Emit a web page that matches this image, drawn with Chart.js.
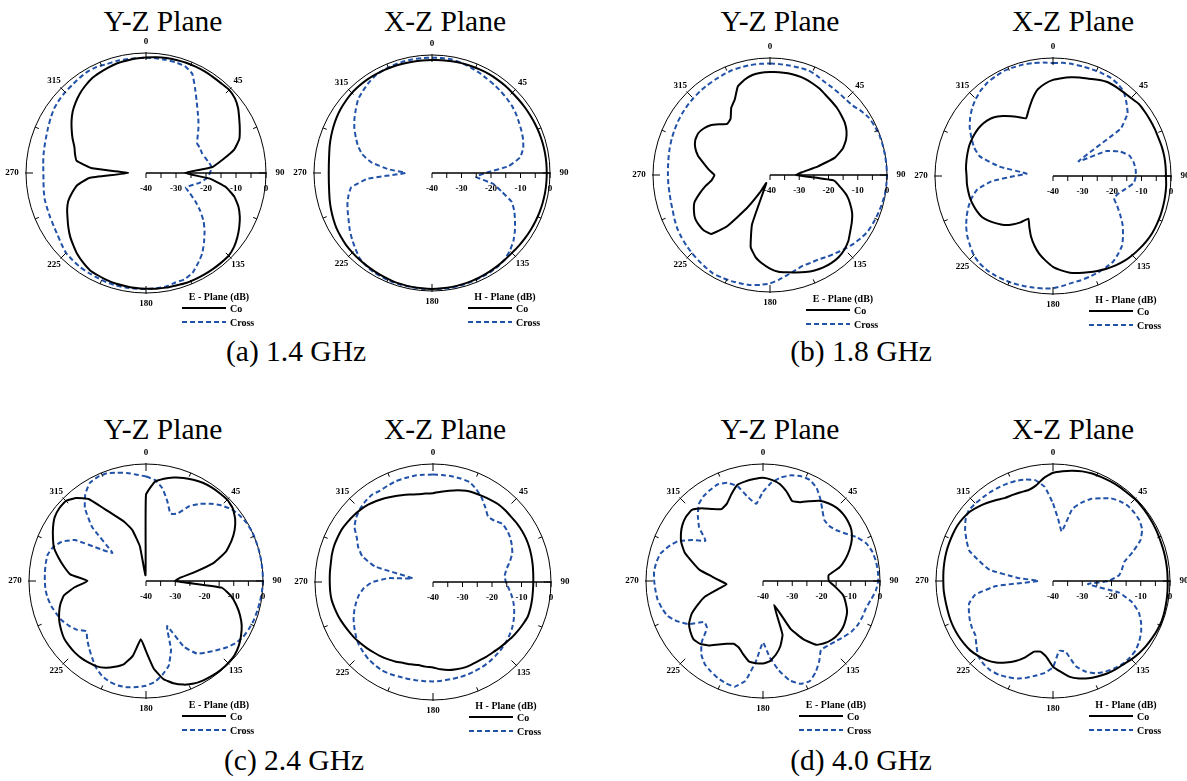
<!DOCTYPE html>
<html lang="en">
<head>
<meta charset="UTF-8">
<title>Radiation patterns</title>
<style>
  body { margin: 0; width: 1187px; height: 781px; overflow: hidden; background: #fff; position: relative;
         font-family: "Liberation Serif", "Times New Roman", serif; color: #000; }
  canvas { position: absolute; }
  .title, .cap { position: absolute; font-size: 29.5px; white-space: nowrap; transform: translate(-50%, -50%); }
  .lg { position: absolute; font-size: 10px; font-weight: bold; white-space: nowrap; }
  .lgline { position: absolute; height: 2px; }
</style>
</head>
<body>
<script src="https://cdn.jsdelivr.net/npm/chart.js"></script>
<script>
// angle categories (degrees, clockwise from top)
const ANGLES = [0,5,10,15,20,25,30,35,40,45,50,55,60,65,70,75,80,85,90,95,100,105,110,115,
  120,125,130,135,140,145,150,155,160,165,170,175,180,185,190,195,200,205,210,215,220,225,230,235,
  240,245,250,255,260,265,270,275,280,285,290,295,300,305,310,315,320,325,330,335,340,345,350,355];
const ANGLE_LABELS = [0, 45, 90, 135, 180, 225, 270, 315];
const RIM_TICKS = [0, 22.5, 45, 67.5, 90, 112.5, 135, 157.5, 180, 202.5, 225, 247.5, 270, 292.5, 315, 337.5];
const DB_TICKS = [-40, -35, -30, -25, -20, -15, -10, -5, 0];
const DB_LABELS = [-40, -30, -20, -10, 0];

// (a) 1.4 GHz
const YZ14_CO = [-1.5,-1.3,-1.1,-1,-0.9,-0.9,-0.9,-1,-1,-0.8,-1.3,-2.5,
  -4.1,-5.5,-6.9,-9.5,-14,-18,-27,-18.6,-13,-9.5,-7.2,-5.5,
  -4.1,-2.8,-1.7,-1,-1,-1,-1,-1,-1,-1.2,-1.2,-1.3,
  -1.4,-1.5,-1.7,-1.8,-2,-2.3,-2.6,-3.5,-4.5,-5.8,-7,-8.4,
  -9.8,-11,-12.4,-14.5,-16.7,-21,-34,-22,-16.5,-15.5,-14.6,-13,
  -11.4,-9.7,-8.1,-6.8,-5.6,-4.6,-3.7,-3.2,-2.7,-2.2,-2,-1.7];
const YZ14_CROSS = [-1.6,-1.6,-1.7,-1.8,-2.1,-3.5,-7.3,-10.6,-13.2,-15.3,-17.2,-19,
  -20.3,-20.2,-20.2,-19.7,-18.8,-18,-18.7,-19.7,-21.7,-24.2,-25.9,-23.8,
  -20.9,-17.9,-14.9,-12.4,-9.9,-7.3,-5.3,-3.3,-2.3,-2.2,-1.6,-1.4,
  -1.3,-1.3,-1.2,-1.2,-1.3,-1.5,-1.6,-1.7,-2,-2.3,-3.2,-4,
  -4.5,-4.8,-5,-5.1,-5.4,-5.7,-5.8,-5.6,-5.3,-5,-4.6,-4,
  -3.3,-2.6,-2.2,-1.9,-1.7,-1.3,-1,-1,-1.4,-1.4,-1.5,-1.6];
const XZ14_CO = [-1.7,-1.6,-1.5,-1.45,-1.4,-1.35,-1.3,-1.35,-1.4,-1.5,-1.5,-1.45,
  -1.4,-1.3,-1.2,-1.15,-1.1,-1.1,-1.1,-1.1,-1.1,-1.15,-1.2,-1.3,
  -1.4,-1.5,-1.6,-1.7,-1.6,-1.45,-1.3,-1.15,-1,-0.9,-0.8,-0.75,
  -0.7,-0.75,-0.8,-0.9,-1,-1.2,-1.4,-1.55,-1.7,-1.85,-2,-2.3,
  -2.6,-3.1,-3.6,-4.1,-4.6,-4.9,-5,-4.9,-4.6,-4.1,-3.6,-3.1,
  -2.6,-2.2,-1.9,-1.6,-1.5,-1.45,-1.5,-1.55,-1.6,-1.65,-1.7,-1.7];
const XZ14_CROSS = [-0.9,-0.9,-0.9,-1.3,-1.9,-2.4,-3,-3.4,-3.8,-4.2,-4.6,-5.2,
  -5.9,-6.5,-7.1,-8,-9.7,-14,-22,-25,-19,-15.5,-11.2,-9.2,
  -7.5,-5.7,-4,-2.7,-1.7,-1.2,-1,-0.9,-0.8,-0.7,-0.6,-0.6,
  -0.6,-0.65,-0.7,-0.7,-0.7,-0.85,-1,-1.4,-2,-3.4,-4.7,-6,
  -7.4,-8.5,-9.5,-10.7,-12.2,-18.2,-31,-25,-19.1,-15.5,-13.3,-11.5,
  -9.6,-7.9,-6.3,-4.6,-3.6,-2.6,-1.8,-1.4,-1.2,-1,-0.9,-0.9];

// (b) 1.8 GHz
const YZ18_CO = [-4.8,-4.7,-4.7,-4.8,-5,-5.5,-6,-6.7,-7.2,-7.6,-8.2,-8.8,
  -9.8,-11.3,-13.5,-17,-23.5,-29,-31,-18,-15.5,-12.8,-10.8,-9,
  -7.7,-6.5,-5,-4,-3.4,-3.3,-3.5,-4,-4.7,-5.5,-6.2,-6.8,
  -8,-9.6,-11.5,-14.5,-22,-37,-33,-26,-17,-11.5,-10.5,-10.3,
  -10.4,-11.3,-12.5,-15,-17.5,-20,-21,-19,-17,-14.5,-12.8,-11.8,
  -11.6,-12.3,-13.5,-15.5,-17.2,-16.5,-13.5,-11.5,-7.8,-6.3,-5.3,-4.9];
const YZ18_CROSS = [-1.9,-1.95,-2,-1.95,-1.9,-2.4,-3.1,-3.3,-3.4,-3.4,-3.1,-1.9,
  -0.9,-0.5,-0.2,-0.15,-0.1,-0.05,0,-0.1,-0.2,-0.5,-0.8,-1.1,
  -1.4,-2.2,-3.1,-4.1,-5.1,-5.9,-6.7,-6.9,-7,-6.3,-5.3,-4.1,
  -2.9,-2.3,-1.8,-1.6,-1.4,-1.25,-1.1,-1.5,-1.9,-2.25,-2.6,-3,
  -3.4,-4,-4.6,-4.9,-5.1,-5.1,-5.1,-5,-4.8,-4.5,-4.2,-3.9,
  -3.6,-3.35,-3.1,-2.9,-2.7,-2.55,-2.4,-2.15,-1.9,-1.85,-1.8,-1.85];
const XZ18_CO = [-7.4,-6.7,-6,-5.4,-4.9,-4,-3.2,-3,-2.9,-2.6,-2,-2,
  -2,-2,-2,-1.8,-1.7,-1.7,-1.7,-1.5,-1.4,-1.3,-1.2,-1.2,
  -1.2,-1.4,-1.7,-2,-2.4,-3,-3.7,-4.5,-5.3,-6,-6.7,-7.9,
  -9.2,-11.2,-13.2,-15.6,-18.2,-21,-23.3,-20.8,-18.5,-16.5,-15,-13.5,
  -12.2,-11.6,-11.2,-10.9,-10.8,-10.7,-10.7,-10.4,-10.2,-10,-9.8,-9.8,
  -9.9,-10.2,-10.8,-11.8,-13.5,-15.3,-17,-18.4,-16,-13,-10.2,-8.6];
const XZ18_CROSS = [-1.7,-1.5,-1.5,-1.5,-1.5,-1.4,-1.4,-1.8,-2.7,-4.8,-7,-12,
  -30,-20,-15.8,-13.2,-12.3,-11.9,-11.9,-12.5,-15,-17,-18,-16,
  -13.7,-11.2,-9,-6.8,-5.6,-4.5,-4.2,-3.9,-3.7,-3.4,-3.2,-2.6,
  -1.9,-1.7,-1.6,-1.4,-1.2,-1.1,-1,-1,-1.3,-2,-3.3,-4.5,
  -6,-7.7,-9.5,-11.5,-14,-19,-27,-31,-21.5,-14.3,-11.5,-9.5,
  -7.4,-5.7,-4.2,-3,-2,-1.3,-1,-0.7,-0.8,-0.9,-1.1,-1.4];

// (c) 2.4 GHz
const YZ24_CO = [-10.5,-6,-4.5,-3.4,-2.5,-1.8,-1.2,-0.9,-0.8,-0.7,-1.3,-2.8,
  -5,-7.8,-11,-16,-23.5,-28.5,-30,-14,-10.5,-8,-5.8,-3.9,
  -2.5,-1.3,-0.5,-0.3,-0.3,-0.5,-0.8,-1.3,-2.3,-3.8,-6,-10,
  -16,-20,-14,-10.5,-8.8,-7.3,-6.3,-5.9,-5.6,-5.5,-5.6,-5.8,
  -6.5,-7.3,-8.4,-9.7,-11.5,-15.5,-20,-14,-11.5,-9,-6.5,-4.9,
  -3.3,-1.9,-1.3,-1.3,-3,-5.8,-11.5,-15.5,-18.5,-22,-28,-38];
const YZ24_CROSS = [-4.3,-5.3,-7.8,-11.8,-15.5,-14.5,-10.5,-7.8,-5.5,-3.5,-1.8,-0.9,
  -0.3,0,0,0,0,0,0,-0.2,-0.4,-0.6,-0.8,-1.2,
  -1.7,-2.8,-4.5,-6.4,-8.1,-9.7,-14,-23,-15,-10,-7.5,-5.4,
  -4.2,-3.6,-3.1,-3,-3.4,-4.3,-5.8,-7.9,-9.8,-11.6,-13.3,-11,
  -9.5,-8.2,-7.4,-6.5,-5.9,-5.5,-5.4,-5.3,-5.2,-5.2,-6.2,-8.2,
  -12,-21,-25,-14,-7.5,-3.8,-1.4,-0.8,-0.8,-1.7,-2.5,-3.5];
const XZ24_CO = [-9.9,-9.3,-8.6,-7.8,-7.1,-6.7,-6.4,-6,-5.6,-5.5,-5.5,-5.3,
  -5.2,-5.2,-5.3,-5.5,-5.7,-5.9,-6,-6,-5.9,-5.8,-5.8,-6.3,
  -6.8,-7.3,-7.9,-8.3,-8.7,-8.9,-9.1,-9.1,-9.1,-9.4,-9.7,-10.3,
  -11,-11.2,-11.4,-11.1,-10.8,-10.2,-9.7,-9.2,-8.8,-8.3,-7.8,-7.3,
  -6.9,-6.4,-5.9,-5.5,-5.1,-5,-5,-4.9,-4.8,-4.5,-4.3,-4.3,
  -4.3,-4.6,-4.9,-5.3,-5.8,-6.5,-7.2,-8,-8.7,-9.3,-9.8,-9.9];
const XZ24_CROSS = [-3.6,-3.6,-3.6,-3.7,-3.9,-5.3,-7,-9.1,-11,-10.6,-9.3,-9.4,
  -9.8,-10.5,-11.4,-13,-14.7,-15.6,-15.3,-14.2,-12.9,-11.7,-10.7,-9.8,
  -9,-8.4,-7.9,-7.5,-7.2,-6.9,-6.7,-6.6,-6.5,-6.5,-6.5,-6.4,
  -6.3,-6.25,-6.2,-6.05,-5.9,-5.6,-5.4,-5.6,-5.9,-6.5,-7.1,-8.1,
  -9.2,-10.3,-11.6,-13,-14.5,-16.5,-19.5,-25,-33,-19.6,-14.5,-12,
  -10.2,-7.5,-6,-5,-4.3,-3.9,-4.2,-3.9,-3.6,-3.5,-3.4,-3.5];

// (d) 4.0 GHz
const YZ40_CO = [-4.7,-5.3,-6.4,-8.5,-10.9,-10.3,-8.5,-6.5,-5.3,-4.5,-4.3,-4.5,
  -5.1,-6.5,-8.5,-10.8,-13.5,-17.5,-17.5,-15,-12.2,-10.7,-9.4,-8.8,
  -8.4,-8.5,-9,-10,-11.5,-15.5,-21,-31,-20.5,-17,-14.5,-12.5,
  -11.8,-11.8,-12.1,-14,-15.8,-16.3,-15.2,-13.5,-11.2,-9.6,-9,-9.7,
  -10.8,-13,-16.3,-19.5,-24.5,-27.5,-25.5,-22.5,-18,-15,-11.5,-9.2,
  -7.6,-6.4,-5.7,-5.6,-7.5,-10,-11.6,-10.8,-8.4,-6,-5.4,-5];
const YZ40_CROSS = [-9.5,-6.2,-4,-2.6,-1.9,-1.9,-3.3,-5.8,-8.4,-10.4,-10.6,-9.6,
  -7.5,-4.6,-2.4,-1.3,-0.8,-0.6,-0.6,-1.3,-2.6,-3.6,-3.9,-4.3,
  -5.2,-6.5,-7.8,-8.7,-9.2,-6.5,-4,-2.2,-2.6,-4.8,-9,-13.8,
  -19,-12.5,-5.3,-2.6,-2.8,-3.4,-4.3,-5.3,-7.2,-10.3,-15,-15.5,
  -10.5,-7.5,-5.2,-4.2,-3.4,-3.1,-2.8,-2.6,-3,-3.7,-5.6,-7.8,
  -12,-16,-11.5,-8.5,-5.8,-4.6,-4,-3.5,-4.3,-6.5,-11,-13.5];
const XZ40_CO = [-3,-2.3,-1.7,-1.2,-0.9,-0.8,-0.7,-0.6,-0.6,-0.4,-0.4,-0.5,
  -0.6,-0.7,-0.8,-0.8,-0.8,-0.8,-0.8,-0.7,-0.6,-0.5,-0.4,-0.6,
  -0.9,-1.2,-1.6,-2.1,-2.7,-3,-3.4,-4,-4.6,-5.5,-6.7,-8.8,
  -10.7,-14,-15.5,-15,-12.2,-9.8,-7.8,-6,-4.7,-3.8,-3.1,-2.8,
  -2.6,-2.5,-2.5,-2.6,-2.6,-2.5,-2.5,-2.4,-2.3,-2.2,-2.2,-2.2,
  -2.2,-2.5,-3,-4,-5.1,-6.2,-7.2,-7.5,-7.7,-7.8,-6.8,-4.6];
const XZ40_CROSS = [-13.5,-19,-22.8,-14.5,-11.5,-9,-7.3,-5.5,-4.4,-3.7,-3.7,-3.9,
  -4.8,-7,-11,-14.8,-16,-17.3,-21,-28,-17,-12,-8.8,-6.8,
  -5.2,-4,-3.1,-2.9,-3,-3.5,-4.2,-5.2,-7,-9.8,-15.5,-16,
  -10.5,-8.5,-7.2,-5.8,-4.5,-3.7,-3,-2.7,-3,-3.8,-5.8,-7.6,
  -8,-8.6,-9.4,-10.3,-13,-20.5,-35,-28,-18,-14,-9.5,-7.4,
  -5.3,-3.5,-2.4,-2.5,-2.7,-2.8,-3,-3.2,-3.5,-4.1,-5,-7.7];

const CO_COLOR = '#000000';
const CROSS_COLOR = '#2152a8';

const PLOTS = [
  { cx: 146,  cy: 173, r: 120, legend: 'E - Plane (dB)', co: YZ14_CO, cross: YZ14_CROSS },
  { cx: 432,  cy: 173, r: 118, legend: 'H - Plane (dB)', co: XZ14_CO, cross: XZ14_CROSS },
  { cx: 770,  cy: 175, r: 117, legend: 'E - Plane (dB)', co: YZ18_CO, cross: YZ18_CROSS },
  { cx: 1053, cy: 176, r: 118, legend: 'H - Plane (dB)', co: XZ18_CO, cross: XZ18_CROSS },
  { cx: 146,  cy: 581, r: 117, legend: 'E - Plane (dB)', co: YZ24_CO, cross: YZ24_CROSS },
  { cx: 433,  cy: 582, r: 118, legend: 'H - Plane (dB)', co: XZ24_CO, cross: XZ24_CROSS },
  { cx: 763,  cy: 581, r: 117, legend: 'E - Plane (dB)', co: YZ40_CO, cross: YZ40_CROSS },
  { cx: 1053, cy: 581, r: 117, legend: 'H - Plane (dB)', co: XZ40_CO, cross: XZ40_CROSS }
];

const TEXTS = [
  { cls: 'title', text: 'Y-Z Plane', x: 163, y: 21 },
  { cls: 'title', text: 'X-Z Plane', x: 445, y: 21 },
  { cls: 'title', text: 'Y-Z Plane', x: 780, y: 21 },
  { cls: 'title', text: 'X-Z Plane', x: 1073, y: 21 },
  { cls: 'title', text: 'Y-Z Plane', x: 163, y: 429 },
  { cls: 'title', text: 'X-Z Plane', x: 445, y: 429 },
  { cls: 'title', text: 'Y-Z Plane', x: 780, y: 429 },
  { cls: 'title', text: 'X-Z Plane', x: 1073, y: 429 },
  { cls: 'cap', text: '(a) 1.4 GHz', x: 296, y: 351 },
  { cls: 'cap', text: '(b) 1.8 GHz', x: 861, y: 351 },
  { cls: 'cap', text: '(c) 2.4 GHz', x: 294, y: 760 },
  { cls: 'cap', text: '(d) 4.0 GHz', x: 861, y: 760 }
];

// rim ticks, dB axis along 90 deg and angle labels
const polarAxes = {
  id: 'polarAxes',
  afterDatasetsDraw(chart) {
    const s = chart.scales.r;
    const ctx = chart.ctx;
    const R = s.drawingArea;
    ctx.save();
    ctx.strokeStyle = '#000';
    ctx.fillStyle = '#000';
    ctx.lineWidth = 1;
    ctx.beginPath();
    RIM_TICKS.forEach(deg => {
      const major = deg % 45 === 0;
      const a = (deg - 90) * Math.PI / 180;
      const r0 = R - (major ? 7 : 4), r1 = R + (major ? 1 : 0);
      ctx.moveTo(s.xCenter + r0 * Math.cos(a), s.yCenter + r0 * Math.sin(a));
      ctx.lineTo(s.xCenter + r1 * Math.cos(a), s.yCenter + r1 * Math.sin(a));
    });
    ctx.stroke();

    const i90 = ANGLES.indexOf(90);
    const a0 = s.getPointPositionForValue(i90, -40);
    const a1 = s.getPointPositionForValue(i90, 0);
    ctx.lineWidth = 1.5;
    ctx.beginPath();
    ctx.moveTo(a0.x, a0.y);
    ctx.lineTo(a1.x, a1.y);
    ctx.stroke();
    ctx.lineWidth = 1;
    ctx.beginPath();
    DB_TICKS.forEach(v => {
      const p = s.getPointPositionForValue(i90, v);
      ctx.moveTo(p.x, p.y);
      ctx.lineTo(p.x, p.y + 5);
    });
    ctx.stroke();

    ctx.font = 'bold 9px "Liberation Serif", serif';
    ctx.textAlign = 'center';
    ctx.textBaseline = 'middle';
    DB_LABELS.forEach(v => {
      const p = s.getPointPositionForValue(i90, v);
      ctx.fillText(String(v), p.x, p.y + 16);
    });
    ANGLE_LABELS.forEach(deg => {
      const off = deg % 180 === 0 ? 11 : (deg % 90 === 0 ? 14 : 10);
      const p = s.getPointPosition(ANGLES.indexOf(deg), R + off);
      ctx.fillText(String(deg), p.x, p.y);
    });
    ctx.restore();
  }
};

function addEl(cls, text, left, top, extra) {
  const d = document.createElement('div');
  d.className = cls;
  if (text) d.textContent = text;
  d.style.left = left + 'px';
  d.style.top = top + 'px';
  if (extra) Object.assign(d.style, extra);
  document.body.appendChild(d);
  return d;
}

TEXTS.forEach(t => addEl(t.cls, t.text, t.x, t.y));

PLOTS.forEach(p => {
  const cv = document.createElement('canvas');
  cv.width = 300;
  cv.height = 300;
  cv.style.left = (p.cx - 150) + 'px';
  cv.style.top = (p.cy - 150) + 'px';
  document.body.appendChild(cv);

  new Chart(cv, {
    type: 'radar',
    data: {
      labels: ANGLES,
      datasets: [
        { label: 'Co', data: p.co, borderColor: CO_COLOR, borderWidth: 2, fill: false,
          pointRadius: 0, tension: 0.12 },
        { label: 'Cross', data: p.cross, borderColor: CROSS_COLOR, borderWidth: 2, fill: false,
          borderDash: [5, 3], pointRadius: 0, tension: 0.12 }
      ]
    },
    options: {
      responsive: false,
      animation: false,
      events: [],
      layout: { padding: 150 - p.r },
      plugins: { legend: { display: false }, tooltip: { enabled: false } },
      scales: {
        r: {
          min: -40,
          max: 0,
          ticks: { display: false, stepSize: 10 },
          grid: {
            circular: true,
            lineWidth: 1,
            color: c => (c.tick && c.tick.value === 0) ? '#000' : 'rgba(0,0,0,0)'
          },
          angleLines: { display: false },
          pointLabels: { display: false }
        }
      }
    },
    plugins: [polarAxes]
  });

  // legend
  addEl('lg', p.legend, p.cx + 73, p.cy + 123, { transform: 'translate(-50%,-50%)' });
  addEl('lgline', '', p.cx + 36, p.cy + 134, { width: '44px', background: CO_COLOR });
  addEl('lg', 'Co', p.cx + 84, p.cy + 135, { transform: 'translateY(-50%)' });
  addEl('lgline', '', p.cx + 36, p.cy + 148, { width: '44px',
    background: 'repeating-linear-gradient(to right, ' + CROSS_COLOR + ' 0 5px, transparent 5px 8px)' });
  addEl('lg', 'Cross', p.cx + 84, p.cy + 149, { transform: 'translateY(-50%)' });
});
</script>
</body>
</html>
